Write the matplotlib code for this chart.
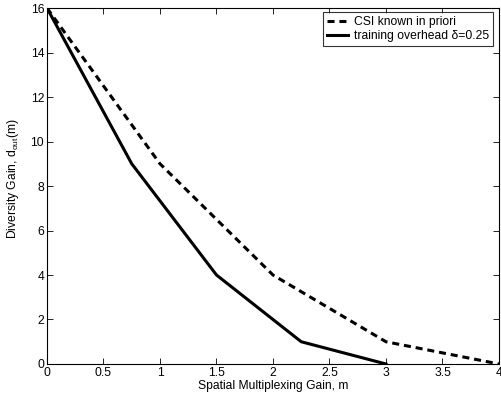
import matplotlib
matplotlib.use("Agg")
import matplotlib.pyplot as plt

plt.rcParams['font.family'] = ['Liberation Sans', 'DejaVu Sans']

# Diversity-multiplexing tradeoff curves for a 4x4 link
m_known = [0, 1, 2, 3, 4]
d_known = [16, 9, 4, 1, 0]
m_train = [0, 0.75, 1.5, 2.25, 3]
d_train = [16, 9, 4, 1, 0]

label_known = "CSI known in priori"
label_train = "training overhead \u03b4=0.25"

FS = 8.7

fig = plt.figure(figsize=(5.02, 4.03), dpi=100)
ax = fig.add_axes([0.0936, 0.0968, 0.9004, 0.8832])

ax.plot(m_known, d_known, color='black', linestyle=(0, (2.3, 1.6)), linewidth=2.2, label=label_known)
ax.plot(m_train, d_train, color='black', linestyle='-', linewidth=2.2, label=label_train)

ax.set_xlim(0, 4)
ax.set_ylim(0, 16)
ax.set_xticks([0, 0.5, 1, 1.5, 2, 2.5, 3, 3.5, 4])
ax.set_xticklabels(['0', '0.5', '1', '1.5', '2', '2.5', '3', '3.5', '4'])
ax.set_yticks(range(0, 17, 2))
ax.tick_params(direction='in', top=True, right=True, labelsize=FS, length=4, width=0.6, pad=2)
for s in ax.spines.values():
    s.set_linewidth(0.8)

ax.set_xlabel('Spatial Multiplexing Gain, m', fontsize=FS, labelpad=1)
ax.set_ylabel(r'Diversity Gain, d$_{\mathregular{out}}$(m)', fontsize=FS, labelpad=4)
ax.yaxis.set_label_coords(-0.058, 0.52)

leg = ax.legend(loc='upper right', bbox_to_anchor=(0.9867, 0.9888), fontsize=FS,
                frameon=True, fancybox=False, edgecolor='black',
                handlelength=1.7, borderpad=0.35, labelspacing=0.15,
                handletextpad=0.5, borderaxespad=0)
leg.get_frame().set_linewidth(0.8)

fig.savefig('out.png', dpi=100)
